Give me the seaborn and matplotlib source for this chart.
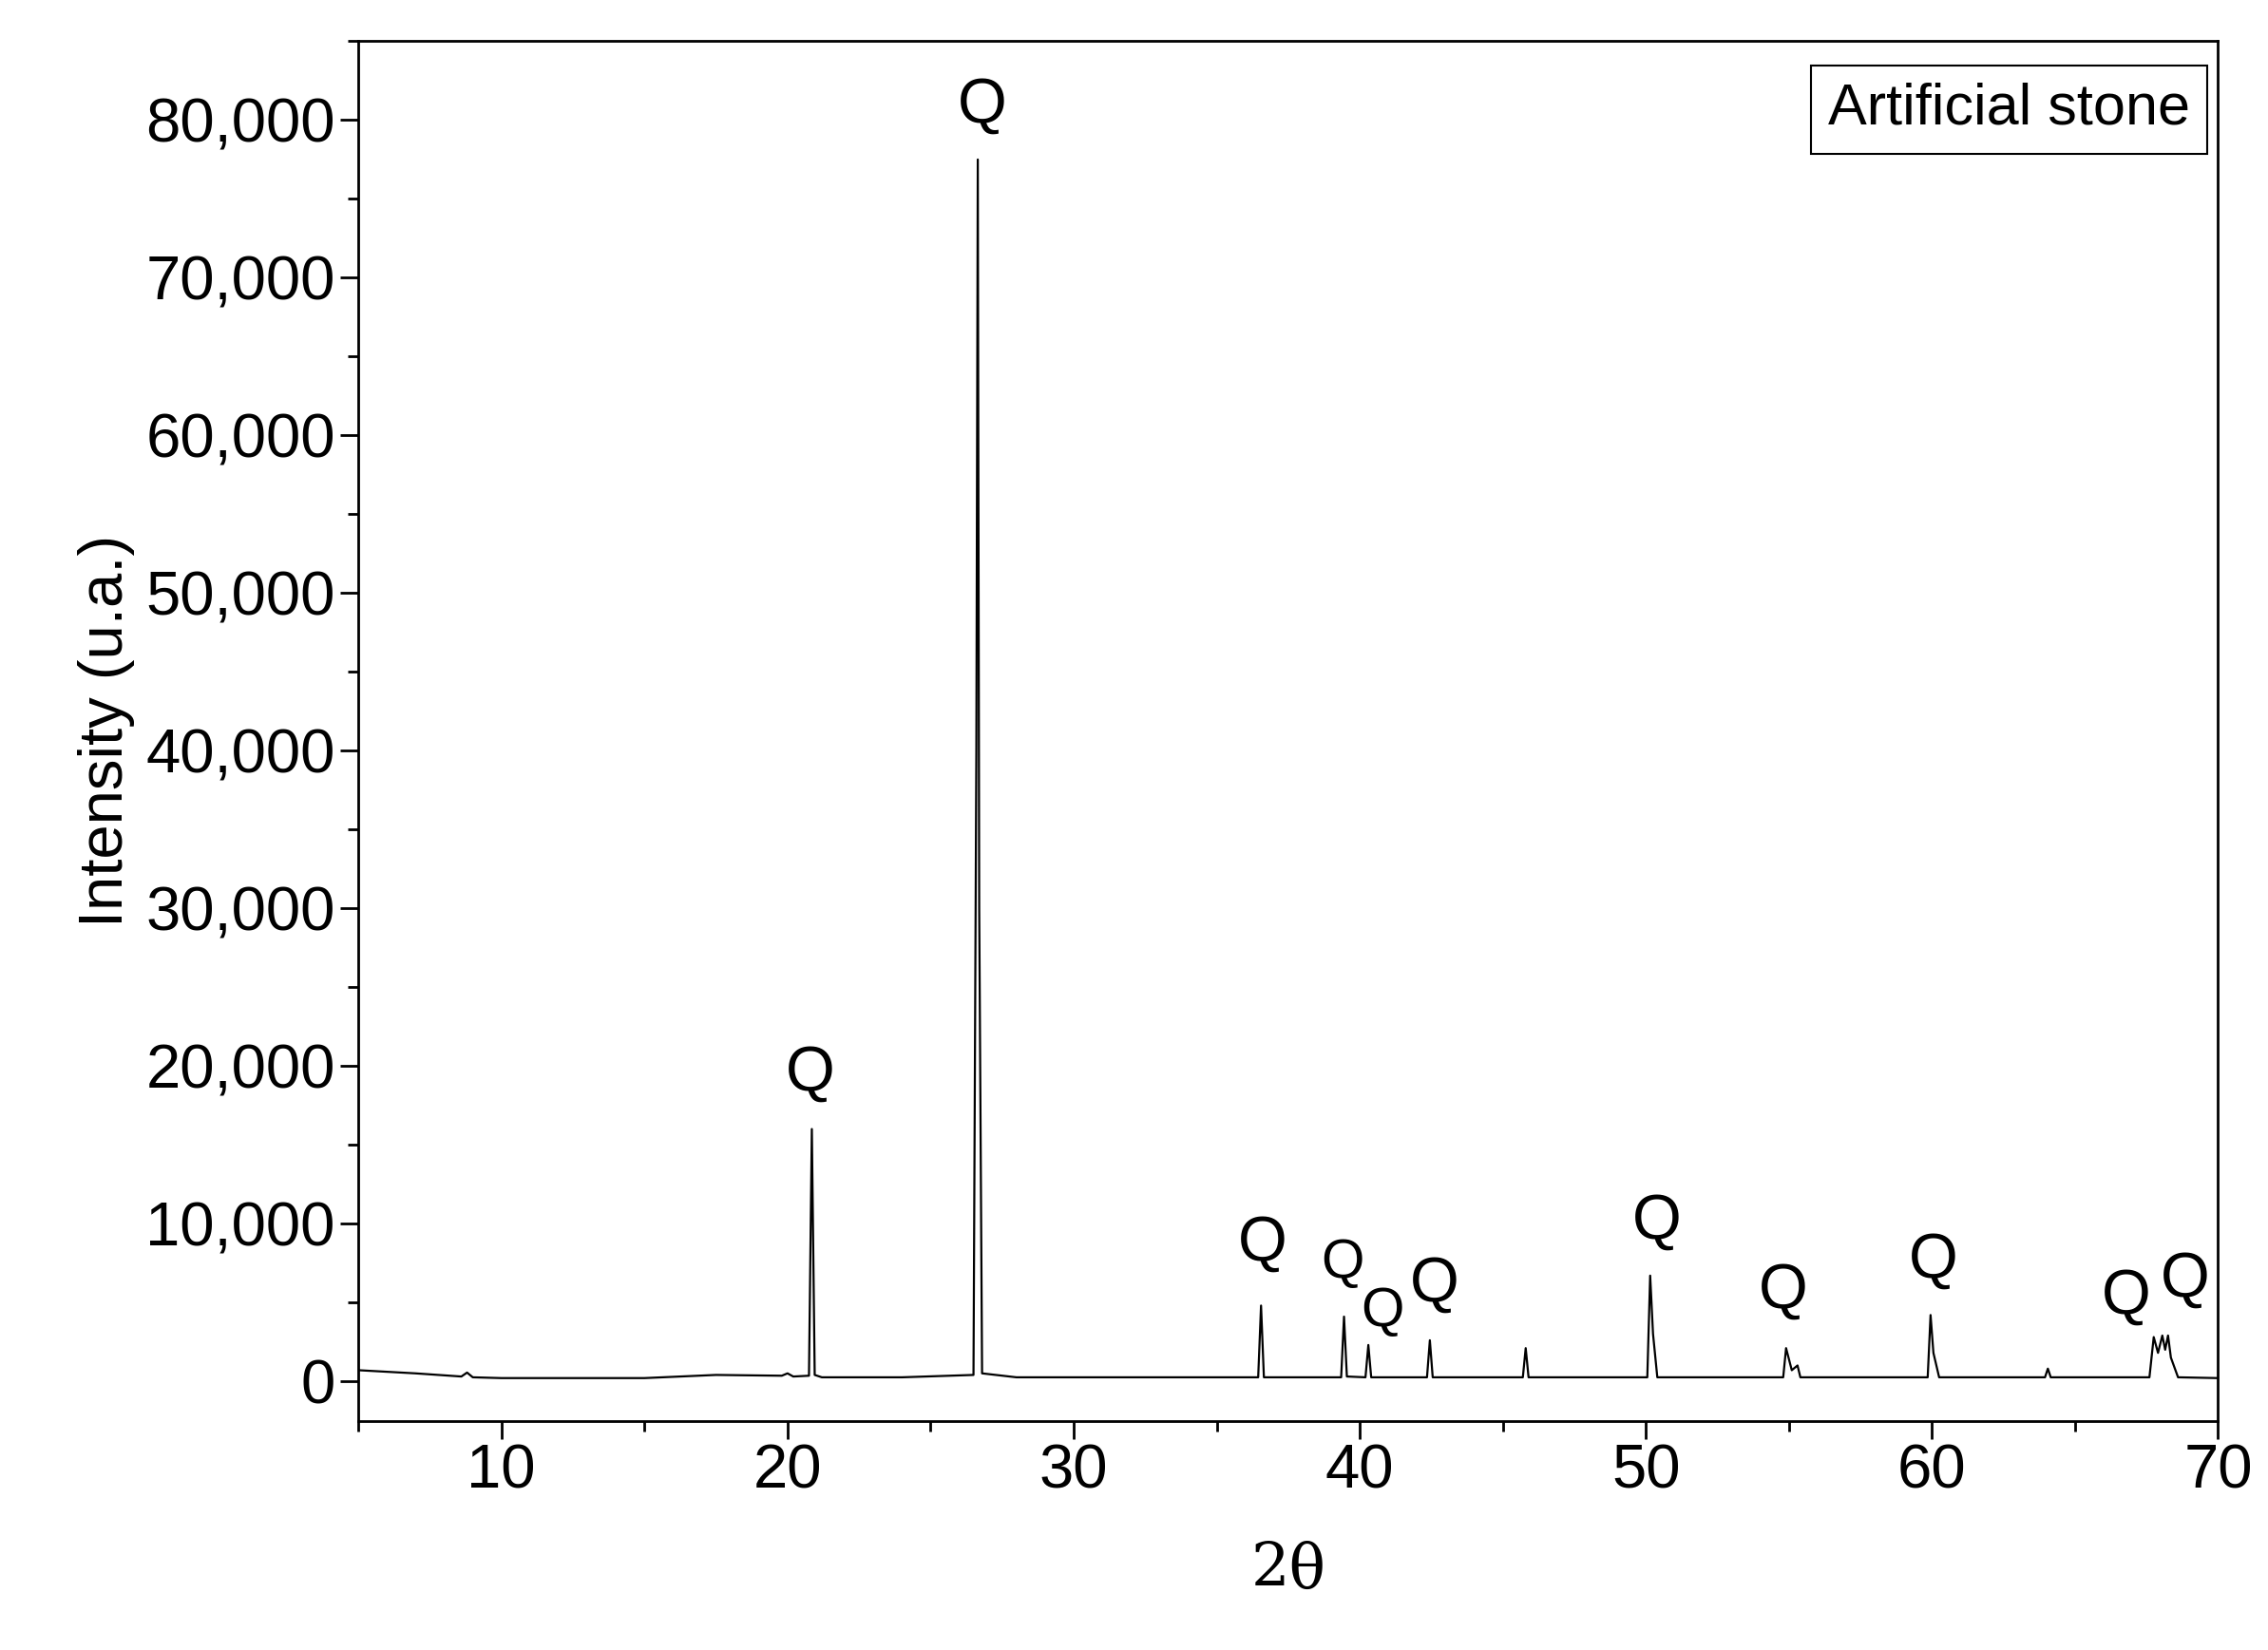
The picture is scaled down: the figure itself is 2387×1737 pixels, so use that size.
import matplotlib
matplotlib.use("Agg")
import matplotlib.pyplot as plt
import seaborn as sns
import pandas as pd
from matplotlib.ticker import MultipleLocator, FuncFormatter

# pattern (2theta, intensity), sparse trace points
two_theta = [5.0, 7.0, 8.6, 8.8, 9.0, 10.0, 15.0, 17.5, 19.8, 20.0, 20.2, 20.75, 20.85, 20.95, 21.2,
             24.0, 26.5, 26.6, 26.65, 26.7, 26.8, 28.0, 35.0, 36.45, 36.55, 36.65,
             39.35, 39.45, 39.55, 40.2, 40.3, 40.4, 42.35, 42.45, 42.55, 45.7, 45.8, 45.9,
             50.05, 50.15, 50.25, 50.4, 54.8, 54.9, 55.1, 55.3, 55.4, 59.85, 59.95, 60.05, 60.25,
             63.95, 64.05, 64.15, 67.6, 67.75, 67.9, 68.05, 68.15, 68.25, 68.35, 68.6, 70.0]
intensity = [700, 500, 300, 550, 250, 200, 200, 400, 350, 500, 300, 350, 16000, 400, 250,
             250, 400, 40000, 77500, 30000, 500, 250, 250, 250, 4800, 250,
             250, 4100, 300, 250, 2300, 250, 250, 2600, 250, 250, 2100, 250,
             250, 6700, 3000, 250, 250, 2100, 700, 1000, 250, 250, 4200, 1800, 250,
             250, 800, 250, 250, 2800, 1800, 2900, 2000, 2900, 1500, 250, 200]

# peak labels
q_x = [20.8, 26.8, 36.6, 39.4, 40.8, 42.6, 50.4, 54.8, 60.05, 66.8, 68.85]
q_y = [19500, 80900, 8700, 7500, 4400, 6100, 10100, 5700, 7600, 5300, 6400]
q_size = [48, 48, 48, 42, 42, 48, 48, 48, 48, 48, 48]

sns.set_style("ticks")
plt.rcParams['font.family'] = ['Arial', 'Liberation Sans', 'DejaVu Sans']
plt.rcParams['text.color'] = 'black'
plt.rcParams['xtick.color'] = 'black'
plt.rcParams['ytick.color'] = 'black'
plt.rcParams['axes.labelcolor'] = 'black'

df = pd.DataFrame({"two_theta": two_theta, "intensity": intensity})

fig = plt.figure(figsize=(23.87, 17.37), dpi=100)
ax = fig.add_axes([0.158, 0.139, 0.820, 0.836])
sns.lineplot(data=df, x="two_theta", y="intensity", ax=ax, color="black", linewidth=1.6,
             sort=False)

for x, y, s in zip(q_x, q_y, q_size):
    ax.text(x, y, "Q", ha="center", va="center", fontsize=s)

ax.set_xlim(5, 70)
ax.set_ylim(-2500, 85000)
ax.xaxis.set_major_locator(MultipleLocator(10))
ax.xaxis.set_minor_locator(MultipleLocator(5))
ax.yaxis.set_major_locator(MultipleLocator(10000))
ax.yaxis.set_minor_locator(MultipleLocator(5000))
ax.yaxis.set_major_formatter(FuncFormatter(lambda v, p: f"{int(v):,}"))
ax.tick_params(which="major", direction="out", length=14, width=2, labelsize=47)
ax.tick_params(which="minor", direction="out", length=8, width=2)
for sp in ax.spines.values():
    sp.set_linewidth(2)
    sp.set_color("black")
    sp.set_visible(True)

ax.set_xlabel("2θ", fontsize=46, family=["DejaVu Serif"], labelpad=30)
ax.set_ylabel("Intensity (u.a.)", fontsize=47, labelpad=8)

ax.text(0.985, 0.97, "Artificial stone", transform=ax.transAxes, ha="right", va="top",
        fontsize=44, bbox=dict(boxstyle="square,pad=0.3", facecolor="white",
                               edgecolor="black", linewidth=1.5))

fig.savefig("out.png", dpi=100)
